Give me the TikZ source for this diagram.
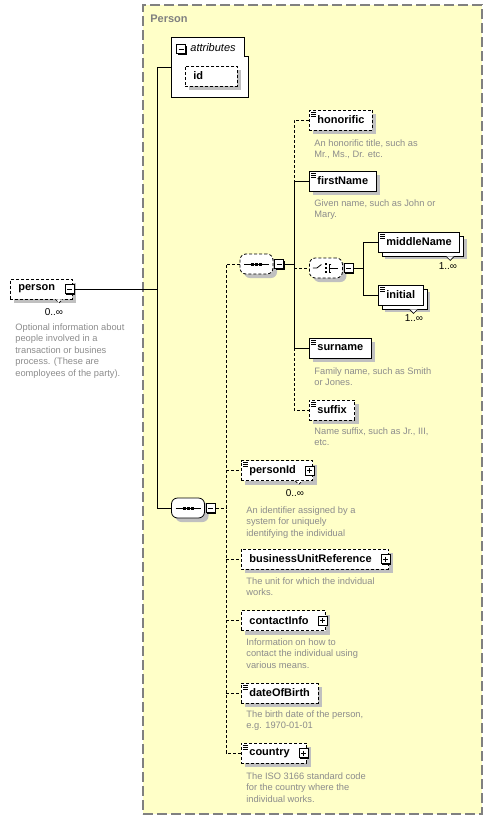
\documentclass[tikz,border=0pt]{standalone}
\usepackage{fontspec}
\setmainfont{Liberation Sans}
\usepackage{tikz}
\usetikzlibrary{shadows,positioning}

\definecolor{typefill}{RGB}{255,255,200}
\definecolor{typeline}{RGB}{128,128,128}
\definecolor{notegray}{RGB}{140,140,140}
\definecolor{shadowgray}{RGB}{192,192,192}

\tikzstyle{typebox} = [rectangle, draw=typeline, fill=typefill, line width=1.2pt, dash pattern=on 10pt off 4pt, minimum width=339pt, minimum height=809pt, inner sep=0pt]
\tikzstyle{elem} = [rectangle, draw=black, fill=white, anchor=west, minimum height=20pt, inner xsep=8pt, inner ysep=0pt, font=\fontsize{11}{13}\selectfont\bfseries, general shadow={fill=shadowgray, shadow xshift=4pt, shadow yshift=-4pt}]
\tikzstyle{opt} = [dash pattern=on 3pt off 2pt]
\tikzstyle{leaf} = [path picture={\foreach \d in {2,4,6} \draw[solid, black, line width=0.6pt] ([xshift=2pt,yshift=-\d pt]path picture bounding box.north west) -- ++(5pt,0pt);}]
\tikzstyle{multi} = [general shadow={fill=shadowgray, shadow xshift=7pt, shadow yshift=-7pt}, copy shadow={shadow xshift=4pt, shadow yshift=-4pt}]
\tikzstyle{expbox} = [rectangle, draw=black, fill=white, minimum size=9pt, inner sep=0pt, general shadow={fill=black, shadow xshift=1pt, shadow yshift=-1pt}]
\tikzstyle{minus} = [expbox, path picture={\draw ([xshift=2pt]path picture bounding box.west) -- ([xshift=-2pt]path picture bounding box.east);}]
\tikzstyle{plus} = [expbox, path picture={\draw ([xshift=2pt]path picture bounding box.west) -- ([xshift=-2pt]path picture bounding box.east); \draw ([yshift=-2pt]path picture bounding box.north) -- ([yshift=2pt]path picture bounding box.south);}]
\tikzstyle{compositor} = [rectangle, rounded corners=6pt, draw=black, fill=white, minimum width=33pt, minimum height=20pt, inner sep=0pt, general shadow={fill=shadowgray, shadow xshift=4pt, shadow yshift=-4pt}]
\tikzstyle{seqbox} = [compositor, path picture={\draw[solid, sharp corners] ([xshift=4pt]path picture bounding box.west) -- ([xshift=-4pt]path picture bounding box.east); \foreach \d in {-4,0,4} \fill[black, sharp corners] ([xshift=\d pt]path picture bounding box.center) ++(-1.5pt,-1.5pt) rectangle ++(3pt,3pt);}]
\tikzstyle{choicebox} = [compositor, path picture={\coordinate (c) at (path picture bounding box.center); \draw[solid, sharp corners] ([xshift=-13pt]c) -- ++(4pt,0pt) -- ++(4.5pt,3.5pt); \foreach \d in {-4,0,4} \fill[black, sharp corners] ([yshift=\d pt]c) ++(-1.2pt,-1.2pt) rectangle ++(2.4pt,2.4pt); \draw[solid, sharp corners] ([xshift=5.5pt,yshift=4pt]c) -- ++(-2.5pt,0pt) -- ++(0pt,-8pt) -- ++(2.5pt,0pt); \draw[solid] ([xshift=3pt]c) -- ++(9pt,0pt);}]
\tikzstyle{note} = [anchor=north west, inner sep=0pt, align=left, text=notegray, font=\fontsize{9.3}{11.5}\selectfont]
\tikzstyle{occurs} = [inner sep=0pt, font=\fontsize{10}{12}\selectfont]
\tikzstyle{notch} = [fill=white, line width=0.6pt]

\begin{document}
\begin{tikzpicture}[x=1pt, y=-1pt, line width=0.8pt]
    \useasboundingbox (0,0) rectangle (494,820);

    \node (personType) [typebox] at (312.5,409.5) {};
    \node (typeTitle) [anchor=west, inner sep=0pt, text=typeline, font=\fontsize{11}{13}\selectfont\bfseries] at (150,19) {Person};

    % attributes
    \node (attrs) [minimum width=76pt, minimum height=59pt, inner sep=0pt] at (210,67.5) {};
    \draw [fill=white] (attrs.south west) |- ([xshift=-4pt]attrs.north east) |- ([yshift=-19pt]attrs.north east) -- (attrs.south east) -- cycle;
    \node (attrsExp) [minus] at (181,49) {};
    \node (attrsTitle) [anchor=west, inner sep=0pt, font=\fontsize{11}{13}\selectfont\itshape] at (190,48) {attributes};
    \node (id) [elem, opt, text width=36pt] at (185,76) {id};

    % top element
    \node (person) [elem, opt] at (10,289) {person\hspace*{9pt}};
    \node (personExp) [minus] at ([xshift=-2.5pt]person.east) {};
    \draw [notch, opt] ([xshift=-17pt]person.south east) -- ++(3.5pt,-3.5pt) -- ++(3.5pt,3.5pt);
    \node (personOcc) [occurs] at (54,312) {0..∞};
    \node (personNote) [note] at (15,323) {Optional information about\\people involved in a\\transaction or busines\\process. (These are\\eomployees of the party).};

    % name sequence
    \node (seqA) [seqbox, opt] at (256.5,264) {};
    \node (seqAExp) [minus, right=1pt of seqA] {};

    \node (honorific) [elem, opt, leaf] at (309,120) {honorific};
    \node (honorificNote) [note] at (314,139) {An honorific title, such as\\Mr., Ms., Dr. etc.};
    \node (firstName) [elem, leaf] at (309,181) {firstName};
    \node (firstNameNote) [note] at (314,199) {Given name, such as John or\\Mary.};

    \node (choice) [choicebox, opt, anchor=west] at (309,268) {};
    \node (choiceExp) [minus, right=1pt of choice] {};
    \node (middleName) [elem, leaf, multi] at (378,242) {middleName};
    \draw [notch] ([xshift=-14pt,yshift=-4pt]middleName.south east) -- ++(4pt,-4pt) -- ++(4pt,4pt);
    \node (middleNameOcc) [occurs] at (448,266) {1..∞};
    \node (initial) [elem, leaf, multi] at (378,295) {initial};
    \draw [notch] ([xshift=-14pt,yshift=-4pt]initial.south east) -- ++(4pt,-4pt) -- ++(4pt,4pt);
    \node (initialOcc) [occurs] at (414,318) {1..∞};

    \node (surname) [elem, leaf] at (309,348) {surname};
    \node (surnameNote) [note] at (314,367) {Family name, such as Smith\\or Jones.};
    \node (suffix) [elem, opt, leaf] at (309,410) {suffix};
    \node (suffixNote) [note] at (314,427) {Name suffix, such as Jr., III,\\etc.};

    % main sequence
    \node (seqB) [seqbox] at (188,508) {};
    \node (seqBExp) [minus, right=1pt of seqB] {};

    \node (personId) [elem, opt, leaf] at (241,470.5) {personId\hspace*{9pt}};
    \node (personIdExp) [plus] at ([xshift=-3.5pt]personId.east) {};
    \draw [notch, opt] ([xshift=-18pt]personId.south east) -- ++(3.5pt,-3.5pt) -- ++(3.5pt,3.5pt);
    \node (personIdOcc) [occurs] at (295,493) {0..∞};
    \node (personIdNote) [note] at (246,506) {An identifier assigned by a\\system for uniquely\\identifying the individual};

    \node (unitRef) [elem, opt] at (241,559) {businessUnitReference\hspace*{9pt}};
    \node (unitRefExp) [plus] at ([xshift=-3.5pt]unitRef.east) {};
    \node (unitRefNote) [note] at (246,577) {The unit for which the indvidual\\works.};

    \node (contactInfo) [elem, opt] at (241,620.5) {contactInfo\hspace*{9pt}};
    \node (contactInfoExp) [plus] at ([xshift=-3.5pt]contactInfo.east) {};
    \node (contactInfoNote) [note] at (246,638) {Information on how to\\contact the individual using\\various means.};

    \node (dateOfBirth) [elem, opt, leaf] at (241,693) {dateOfBirth};
    \node (dateOfBirthNote) [note] at (246,710) {The birth date of the person,\\e.g. 1970-01-01};

    \node (country) [elem, opt, leaf] at (241,753) {country\hspace*{9pt}};
    \node (countryExp) [plus] at ([xshift=-3.5pt]country.east) {};
    \node (countryNote) [note] at (246,772) {The ISO 3166 standard code\\for the country where the\\individual works.};

    % connectors
    \coordinate (busA) at (157,0);
    \coordinate (busB) at (226,0);
    \coordinate (busC) at (294,0);
    \coordinate (busD) at (363,0);

    \draw (attrs.west) -- (attrs.west -| busA) -- (seqB.west -| busA) -- (seqB.west);
    \draw (personExp.east) -- (personExp.east -| busA);

    \draw [opt] (seqBExp.east) -- (seqBExp.east -| busB);
    \draw [opt] (seqA.west) -- (seqA.west -| busB) -- (country.west -| busB) -- (country.west);
    \foreach \n in {personId, unitRef, contactInfo, dateOfBirth}
        \draw [opt] (\n.west -| busB) -- (\n.west);

    \draw (seqAExp.east) -- (seqAExp.east -| busC);
    \draw [opt] (honorific.west) -- (honorific.west -| busC) -- (firstName.west -| busC);
    \draw (firstName.west) -- (firstName.west -| busC) -- (surname.west -| busC) -- (surname.west);
    \draw [opt] (surname.west -| busC) -- (suffix.west -| busC) -- (suffix.west);
    \draw [opt] (choice.west -| busC) -- (choice.west);

    \draw (choiceExp.east) -- (choiceExp.east -| busD);
    \draw (middleName.west) -- (middleName.west -| busD) -- (initial.west -| busD) -- (initial.west);
\end{tikzpicture}
\end{document}
